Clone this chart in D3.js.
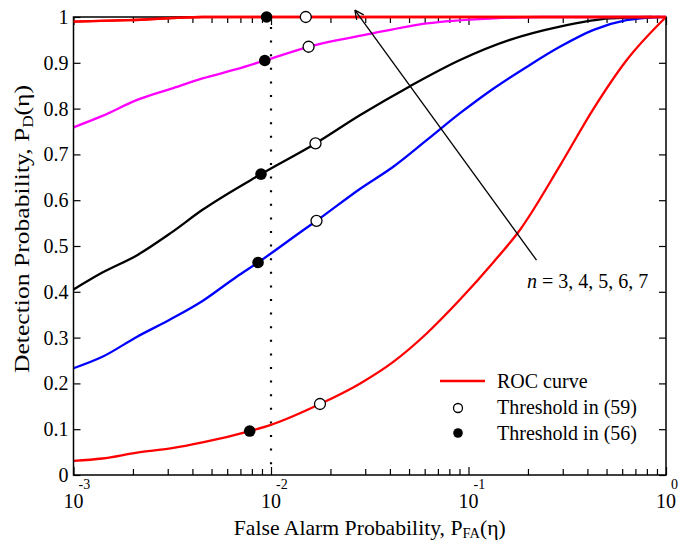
<!DOCTYPE html>
<html>
<head>
<meta charset="utf-8">
<script src="https://cdn.jsdelivr.net/npm/d3@7"></script>
<style>
  body { margin: 0; background: #fff; }
  svg { display: block; font-family: "Liberation Serif", "Times New Roman", serif; }
</style>
</head>
<body>
<svg id="chart" width="680" height="542"></svg>
<script>
//
// Data
//

// n = 3 (red, lowest)
var pfaN3 = [0.001, 0.0014, 0.0021, 0.0031, 0.0045, 0.0078, 0.0099, 0.0177, 0.0283, 0.0416, 0.0614, 0.0906, 0.134, 0.182, 0.29, 0.43, 0.63, 1]
var pdN3  = [0.031, 0.036, 0.049, 0.058, 0.071, 0.096, 0.109, 0.155, 0.2, 0.247, 0.309, 0.383, 0.465, 0.535, 0.675, 0.8, 0.905, 1]
// n = 4 (blue)
var pfaN4 = [0.001, 0.0014, 0.0021, 0.0031, 0.0045, 0.0067, 0.0086, 0.0146, 0.017, 0.0283, 0.0416, 0.0614, 0.0906, 0.134, 0.197, 0.29, 0.43, 0.63, 0.93]
var pdN4  = [0.233, 0.258, 0.302, 0.34, 0.38, 0.433, 0.464, 0.535, 0.555, 0.625, 0.673, 0.731, 0.79, 0.844, 0.891, 0.935, 0.972, 0.993, 1]
// n = 5 (black)
var pfaN5 = [0.001, 0.0014, 0.0021, 0.0031, 0.0045, 0.0089, 0.0168, 0.0283, 0.0506, 0.0906, 0.162, 0.29, 0.52, 0.85]
var pdN5  = [0.405, 0.442, 0.48, 0.528, 0.579, 0.657, 0.724, 0.786, 0.849, 0.906, 0.95, 0.979, 0.997, 1]
// n = 6 (magenta)
var pfaN6 = [0.001, 0.0014, 0.0021, 0.0031, 0.0045, 0.0067, 0.0093, 0.0155, 0.0317, 0.0614, 0.134, 0.234, 1]
var pdN6  = [0.759, 0.784, 0.819, 0.843, 0.866, 0.886, 0.905, 0.935, 0.963, 0.986, 0.997, 1, 1]
// n = 7 (red, top)
var pfaN7 = [0.001, 0.0019, 0.0045, 1]
var pdN7  = [0.99, 0.993, 1, 1]

// thresholds, one per curve (n = 3..7)
var thr56Pfa = [0.0078, 0.0086, 0.0089, 0.0093, 0.0095]
var thr56Pd  = [0.096, 0.464, 0.657, 0.905, 1]
var thr59Pfa = [0.0177, 0.017, 0.0168, 0.0155, 0.015]
var thr59Pd  = [0.155, 0.555, 0.724, 0.935, 1]

var curveColors = ['#ff0000', '#0000ff', '#000000', '#ff00ff', '#ff0000']

var xMajor = [0.001, 0.01, 0.1, 1]
var xMajorExp = ['-3', '-2', '-1', '0']
var yTicks = [0, 0.1, 0.2, 0.3, 0.4, 0.5, 0.6, 0.7, 0.8, 0.9, 1]
var yTickLabels = ['0', '0.1', '0.2', '0.3', '0.4', '0.5', '0.6', '0.7', '0.8', '0.9', '1']

var dottedPfa = 0.01
var arrowFrom = [0.221, 0.469]
var arrowTo = [0.0266, 1.015]
var arrowText = [0.198, 0.408]

//
// Layout
//

var mLeft = 73.5, mRight = 666, mTop = 17, mBottom = 475

var svg = d3.select('#chart')

var x = d3.scaleLog().domain([0.001, 1]).range([mLeft, mRight])
var y = d3.scaleLinear().domain([0, 1]).range([mBottom, mTop])

var xMinor = []
xMajor.slice(0, 3).forEach(function (d) {
  for (var k = 2; k <= 9; k++) xMinor.push(d * k)
})

//
// Axes (ticks inside on all four sides)
//

function axisLines(g) {
  g.select('.domain').remove()
  g.selectAll('line').attr('stroke', '#000').attr('stroke-width', 1.2)
}

svg.append('g').attr('transform', 'translate(0,' + mBottom + ')')
  .call(d3.axisBottom(x).tickValues(xMajor).tickSize(-8).tickFormat(''))
  .call(axisLines)
svg.append('g').attr('transform', 'translate(0,' + mBottom + ')')
  .call(d3.axisBottom(x).tickValues(xMinor).tickSize(-6).tickFormat(''))
  .call(axisLines)
svg.append('g').attr('transform', 'translate(0,' + mTop + ')')
  .call(d3.axisTop(x).tickValues(xMajor).tickSize(-8).tickFormat(''))
  .call(axisLines)
svg.append('g').attr('transform', 'translate(0,' + mTop + ')')
  .call(d3.axisTop(x).tickValues(xMinor).tickSize(-6).tickFormat(''))
  .call(axisLines)
svg.append('g').attr('transform', 'translate(' + mLeft + ',0)')
  .call(d3.axisLeft(y).tickValues(yTicks).tickSize(-7).tickFormat(''))
  .call(axisLines)
svg.append('g').attr('transform', 'translate(' + mRight + ',0)')
  .call(d3.axisRight(y).tickValues(yTicks).tickSize(-7).tickFormat(''))
  .call(axisLines)

// y tick labels
svg.append('g').selectAll('text')
  .data(yTicks)
  .join('text')
  .attr('x', mLeft - 5)
  .attr('y', function (d) { return y(d) })
  .attr('dy', '0.35em')
  .attr('text-anchor', 'end')
  .attr('font-size', 20)
  .text(function (d, i) { return yTickLabels[i] })

// x tick labels: 10 with superscript exponent
var xl = svg.append('g').selectAll('g')
  .data(xMajor)
  .join('g')
  .attr('transform', function (d) { return 'translate(' + x(d) + ',0)' })
xl.append('text')
  .attr('x', 0).attr('y', 508)
  .attr('text-anchor', 'middle')
  .attr('font-size', 20)
  .text('10')
xl.append('text')
  .attr('x', 5).attr('y', 489)
  .attr('font-size', 14)
  .text(function (d, i) { return xMajorExp[i] })

// axis titles
var xt = svg.append('text')
  .attr('x', (mLeft + mRight) / 2).attr('y', 535)
  .attr('text-anchor', 'middle')
  .attr('font-size', 21)
  .attr('textLength', 272)
  .attr('lengthAdjust', 'spacingAndGlyphs')
xt.append('tspan').text('False Alarm Probability, P')
xt.append('tspan').attr('font-size', 14).attr('dy', 3).text('FA')
xt.append('tspan').attr('dy', -3).text('(η)')

var yt = svg.append('text')
  .attr('transform', 'translate(29,229) rotate(-90)')
  .attr('text-anchor', 'middle')
  .attr('font-size', 21)
  .attr('textLength', 288)
  .attr('lengthAdjust', 'spacingAndGlyphs')
yt.append('tspan').text('Detection Probability, P')
yt.append('tspan').attr('font-size', 14).attr('dy', 4).text('D')
yt.append('tspan').attr('dy', -4).text('(η)')

//
// Dotted line at PFA = 1e-2
//

svg.append('line')
  .attr('x1', x(dottedPfa)).attr('x2', x(dottedPfa))
  .attr('y1', y(1) + 10).attr('y2', y(0))
  .attr('stroke', '#000')
  .attr('stroke-width', 2.2)
  .attr('stroke-dasharray', '2,11.6')

//
// ROC curves
//

var series = [
  [pfaN3, pdN3], [pfaN4, pdN4], [pfaN5, pdN5], [pfaN6, pdN6], [pfaN7, pdN7]
]

var line = d3.line()
  .x(function (d) { return x(d[0]) })
  .y(function (d) { return y(d[1]) })
  .curve(d3.curveMonotoneX)

svg.append('g').selectAll('path')
  .data(series)
  .join('path')
  .attr('d', function (s) { return line(d3.zip(s[0], s[1])) })
  .attr('fill', 'none')
  .attr('stroke', function (s, i) { return curveColors[i] })
  .attr('stroke-width', 2.3)

// box
svg.append('rect')
  .attr('x', mLeft).attr('y', mTop)
  .attr('width', mRight - mLeft).attr('height', mBottom - mTop)
  .attr('fill', 'none')
  .attr('stroke', '#000')
  .attr('stroke-width', 1.5)

// draw top red line again over the box (it sits on the top edge)
svg.append('path')
  .attr('d', line(d3.zip(pfaN7, pdN7)))
  .attr('fill', 'none')
  .attr('stroke', curveColors[4])
  .attr('stroke-width', 2.3)

//
// Threshold markers
//

svg.append('g').selectAll('circle')
  .data(d3.zip(thr59Pfa, thr59Pd))
  .join('circle')
  .attr('cx', function (d) { return x(d[0]) })
  .attr('cy', function (d) { return y(d[1]) })
  .attr('r', 5.5)
  .attr('fill', '#fff')
  .attr('stroke', '#000')
  .attr('stroke-width', 1.3)

svg.append('g').selectAll('circle')
  .data(d3.zip(thr56Pfa, thr56Pd))
  .join('circle')
  .attr('cx', function (d) { return x(d[0]) })
  .attr('cy', function (d) { return y(d[1]) })
  .attr('r', 5.8)
  .attr('fill', '#000')

//
// Arrow + annotation
//

var ax1 = x(arrowFrom[0]), ay1 = y(arrowFrom[1])
var ax2 = x(arrowTo[0]), ay2 = y(arrowTo[1])
svg.append('line')
  .attr('x1', ax1).attr('y1', ay1).attr('x2', ax2).attr('y2', ay2)
  .attr('stroke', '#000').attr('stroke-width', 1.3)
var ang = Math.atan2(ay1 - ay2, ax1 - ax2)
;[-0.45, 0.45].forEach(function (da) {
  svg.append('line')
    .attr('x1', ax2).attr('y1', ay2)
    .attr('x2', ax2 + 10 * Math.cos(ang + da))
    .attr('y2', ay2 + 10 * Math.sin(ang + da))
    .attr('stroke', '#000').attr('stroke-width', 1.3)
})

var nt = svg.append('text')
  .attr('x', x(arrowText[0])).attr('y', y(arrowText[1]))
  .attr('font-size', 20)
nt.append('tspan').attr('font-style', 'italic').text('n')
nt.append('tspan').text(' = 3, 4, 5, 6, 7')

//
// Legend
//

var lg = svg.append('g')
lg.append('line')
  .attr('x1', 440).attr('x2', 485).attr('y1', 381).attr('y2', 381)
  .attr('stroke', '#ff0000').attr('stroke-width', 2.5)
lg.append('circle').attr('cx', 458).attr('cy', 408).attr('r', 4.5)
  .attr('fill', '#fff').attr('stroke', '#000').attr('stroke-width', 1.3)
lg.append('circle').attr('cx', 458).attr('cy', 433).attr('r', 4.8)
  .attr('fill', '#000')
lg.append('text').attr('x', 497).attr('y', 388).attr('font-size', 20).text('ROC curve')
lg.append('text').attr('x', 497).attr('y', 414).attr('font-size', 20).text('Threshold in (59)')
lg.append('text').attr('x', 497).attr('y', 440).attr('font-size', 20).text('Threshold in (56)')
</script>
</body>
</html>
